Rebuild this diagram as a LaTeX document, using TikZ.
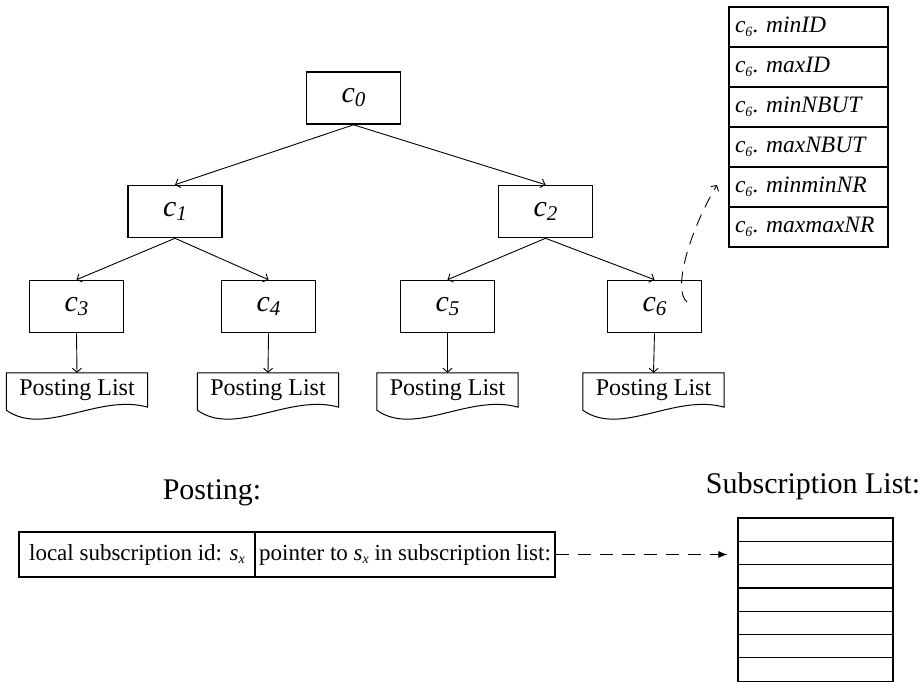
\documentclass[tikz,border=0pt]{standalone}
\usepackage{fontspec}
\setmainfont{Liberation Serif}
\usetikzlibrary{arrows.meta,calc}
\newcommand\clabel[1]{\fontsize{30}{30}\selectfont\textit{c}\raisebox{-4pt}{\fontsize{21}{21}\selectfont\textit{#1}}}
\newcommand\fieldlabel[1]{\textit{c}\raisebox{-4pt}{\fontsize{14}{14}\selectfont\textit{6}}.\ \textit{#1}}
\newcommand\sxlabel{\textit{s}\raisebox{-3pt}{\fontsize{14}{14}\selectfont\textit{x}}}
\tikzset{
  cbox/.style={draw, line width=1.6pt, minimum width=94pt, minimum height=52pt, inner sep=0pt},
  treearrow/.style={line width=0.9pt, -{Straight Barb[length=4pt,width=9pt]}},
  doctext/.style={minimum width=141pt, minimum height=34pt, inner sep=0pt, font=\fontsize{24}{24}\selectfont},
  docline/.style={line width=1pt},
  field/.style={draw, line width=1.2pt, minimum width=159pt, minimum height=40pt, text width=147pt, inner xsep=6pt, inner ysep=0pt, align=left, font=\fontsize{23.5}{23.5}\selectfont},
  subrow/.style={draw, line width=1.2pt, minimum width=155pt, minimum height=23.3pt, inner sep=0pt},
  rowcell/.style={draw, line width=1.2pt, minimum height=45pt, inner sep=0pt, font=\fontsize{23}{23}\selectfont},
  heading/.style={font=\fontsize{30}{30}\selectfont, inner sep=0pt},
  dasharrow/.style={line width=1pt, dash pattern=on 13pt off 9pt},
}
\newcommand\postdoc[2]{%
  \node[doctext] (#1) at (#2,390) {Posting List};
  \draw[docline] (#1.north west) -- ($(#1.south west)+(0,3)$)
    .. controls +(38,27) and +(-49,-14) .. (#1.south east) -- (#1.north east) -- cycle;
}
\begin{document}
\begin{tikzpicture}[x=1pt,y=-1pt]
\useasboundingbox (0,0) rectangle (924,682);
% tree
\node[cbox] (c0) at (353.5,98) {\clabel{0}};
\node[cbox] (c1) at (175,211.5) {\clabel{1}};
\node[cbox] (c2) at (545.5,211.5) {\clabel{2}};
\node[cbox] (c3) at (76.5,306.5) {\clabel{3}};
\node[cbox] (c4) at (268.5,306.5) {\clabel{4}};
\node[cbox] (c5) at (447.5,306.5) {\clabel{5}};
\node[cbox] (c6) at (654.5,306.5) {\clabel{6}};
\draw[treearrow] (c0.south) -- (c1.north);
\draw[treearrow] (c0.south) -- (c2.north);
\draw[treearrow] (c1.south) -- (c3.north);
\draw[treearrow] (c1.south) -- (c4.north);
\draw[treearrow] (c2.south) -- (c5.north);
\draw[treearrow] (c2.south) -- (c6.north);
% posting lists
\postdoc{p3}{77}
\postdoc{p4}{268}
\postdoc{p5}{447.5}
\postdoc{p6}{653.5}
\draw[treearrow] (c3.south) -- (p3.north);
\draw[treearrow] (c4.south) -- (p4.north);
\draw[treearrow] (c5.south) -- (p5.north);
\draw[treearrow] (c6.south) -- (p6.north);
% c6 fields
\node[field] (f1) at (808.5,27) {\fieldlabel{minID}};
\node[field] (f2) at (808.5,67) {\fieldlabel{maxID}};
\node[field] (f3) at (808.5,107) {\fieldlabel{minNBUT}};
\node[field] (f4) at (808.5,147) {\fieldlabel{maxNBUT}};
\node[field] (f5) at (808.5,187) {\fieldlabel{minminNR}};
\node[field] (f6) at (808.5,227) {\fieldlabel{maxmaxNR}};
\coordinate (c6start) at (687,302);
\coordinate (fieldsend) at (717,185);
\draw[line width=0.9pt, dash pattern=on 12pt off 8pt, -{Straight Barb[length=4pt,width=9pt]}]
  (c6start) .. controls (672,290) and (690,230) .. (fieldsend);
% posting
\node[heading] (postlabel) at (212,493) {Posting:};
\node[rowcell, minimum width=236pt] (r1) at (137,554.5) {local subscription id: \sxlabel};
\node[rowcell, minimum width=300pt] (r2) at (405,554.5) {pointer to \sxlabel\ in subscription list:};
% subscription list
\node[heading] (sublabel) at (813,486) {Subscription List:};
\foreach \i in {1,...,7} {
  \node[subrow] (s\i) at (815.5,{518+23.3*(\i-0.5)}) {};
}
\draw[dasharrow, shorten >=10pt, -{Latex[length=9pt,width=7pt]}] (r2.east) -- (r2.east -| s2.west);
\end{tikzpicture}
\end{document}
